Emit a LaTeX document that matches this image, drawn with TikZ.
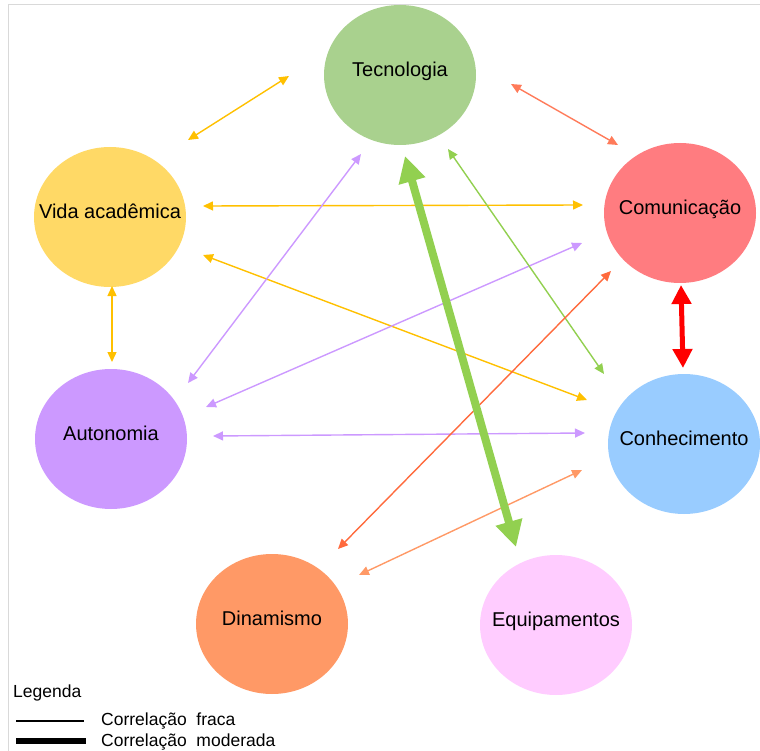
\documentclass[tikz,border=0pt]{standalone}
\usepackage{fontspec}
\setmainfont{Liberation Sans}
\usetikzlibrary{shapes.geometric,arrows.meta}
\definecolor{tecgreen}{HTML}{A9D18E}
\definecolor{vidayellow}{HTML}{FFD966}
\definecolor{comred}{HTML}{FF7C80}
\definecolor{conhblue}{HTML}{99CCFF}
\definecolor{autopurple}{HTML}{CC99FF}
\definecolor{dinorange}{HTML}{FF9966}
\definecolor{equippink}{HTML}{FFCCFF}
\definecolor{amber}{HTML}{FFC000}
\definecolor{lime}{HTML}{92D050}
\definecolor{coral}{HTML}{FF7B5A}
\definecolor{tomato}{HTML}{FF6A3D}
\newcommand{\nowidth}[1]{\makebox[0pt]{#1}}
\begin{document}
\begin{tikzpicture}[x=1pt, y=-1pt, line cap=round, line join=round, >={Triangle[length=10pt,width=9pt]}]
	\tikzset{bubble/.style={ellipse, minimum width=152pt, minimum height=140pt, inner sep=0pt,
			font=\fontsize{20}{24}\selectfont, text height=15pt, text depth=12pt},
		weak/.style={<->, line width=1.4pt},
		legend text/.style={anchor=base west, inner sep=0pt, font=\fontsize{17.5}{20}\selectfont}}
	\useasboundingbox (0,0) rectangle (760,751);
	\draw[black!15, line width=1pt] (8,751) -- (8,5) -- (760,5);
	% circulos
	\node[bubble, fill=tecgreen] (tec) at (400,75) {\nowidth{Tecnologia}};
	\node[bubble, fill=vidayellow] (vida) at (110,217) {\nowidth{Vida acadêmica}};
	\node[bubble, fill=comred] (com) at (680,213) {\nowidth{Comunicação}};
	\node[bubble, fill=autopurple] (auto) at (111,439) {\nowidth{Autonomia}};
	\node[bubble, fill=conhblue] (conh) at (684,444) {\nowidth{Conhecimento}};
	\node[bubble, fill=dinorange] (din) at (272,624) {\nowidth{Dinamismo}};
	\node[bubble, fill=equippink] (equip) at (556,625) {\nowidth{Equipamentos}};
	% pontas das setas
	\coordinate (vida-tec) at (188,140);   \coordinate (tec-vida) at (289,76);
	\coordinate (vida-com) at (203,206);   \coordinate (com-vida) at (583,205);
	\coordinate (vida-auto) at (112,286);  \coordinate (auto-vida) at (112,362);
	\coordinate (vida-conh) at (203,255);  \coordinate (conh-vida) at (587,400);
	\coordinate (auto-tec) at (188,383);   \coordinate (tec-auto) at (361,154);
	\coordinate (auto-com) at (206,407);   \coordinate (com-auto) at (582,243);
	\coordinate (auto-conh) at (213,436);  \coordinate (conh-auto) at (585,433);
	\coordinate (tec-conh) at (448,149);   \coordinate (conh-tec) at (604,374);
	\coordinate (tec-equip) at (405,156);  \coordinate (equip-tec) at (516,547);
	\coordinate (tec-com) at (511,84);     \coordinate (com-tec) at (618,145);
	\coordinate (com-conh) at (681,285);   \coordinate (conh-com) at (683,368);
	\coordinate (din-com) at (338,549);    \coordinate (com-din) at (611,271);
	\coordinate (din-conh) at (359,575);   \coordinate (conh-din) at (582,470);
	% correlacao fraca
	\draw[weak, amber] (vida-tec) -- (tec-vida);
	\draw[weak, amber] (vida-com) -- (com-vida);
	\draw[weak, amber] (vida-auto) -- (auto-vida);
	\draw[weak, amber] (vida-conh) -- (conh-vida);
	\draw[weak, autopurple] (auto-tec) -- (tec-auto);
	\draw[weak, autopurple] (auto-com) -- (com-auto);
	\draw[weak, autopurple] (auto-conh) -- (conh-auto);
	\draw[weak, lime] (tec-conh) -- (conh-tec);
	\draw[weak, coral] (tec-com) -- (com-tec);
	\draw[weak, tomato] (din-com) -- (com-din);
	\draw[weak, dinorange] (din-conh) -- (conh-din);
	% correlacao moderada
	\draw[<->, >={Triangle[length=26pt,width=26pt]}, line width=8pt, lime] (tec-equip) -- (equip-tec);
	\draw[<->, >={Triangle[length=19pt,width=19pt]}, line width=5pt, red] (com-conh) -- (conh-com);
	% legenda
	\node[legend text] (leg) at (13,697) {Legenda};
	\draw[line width=1.2pt, line cap=butt] (16,721) -- (84,721);
	\draw[line width=6pt, line cap=butt] (16,741) -- (86,741);
	\node[legend text] (fraca) at (101,725) {Correlação\ \ fraca};
	\node[legend text] (moderada) at (101,746) {Correlação\ \ moderada};
\end{tikzpicture}
\end{document}
